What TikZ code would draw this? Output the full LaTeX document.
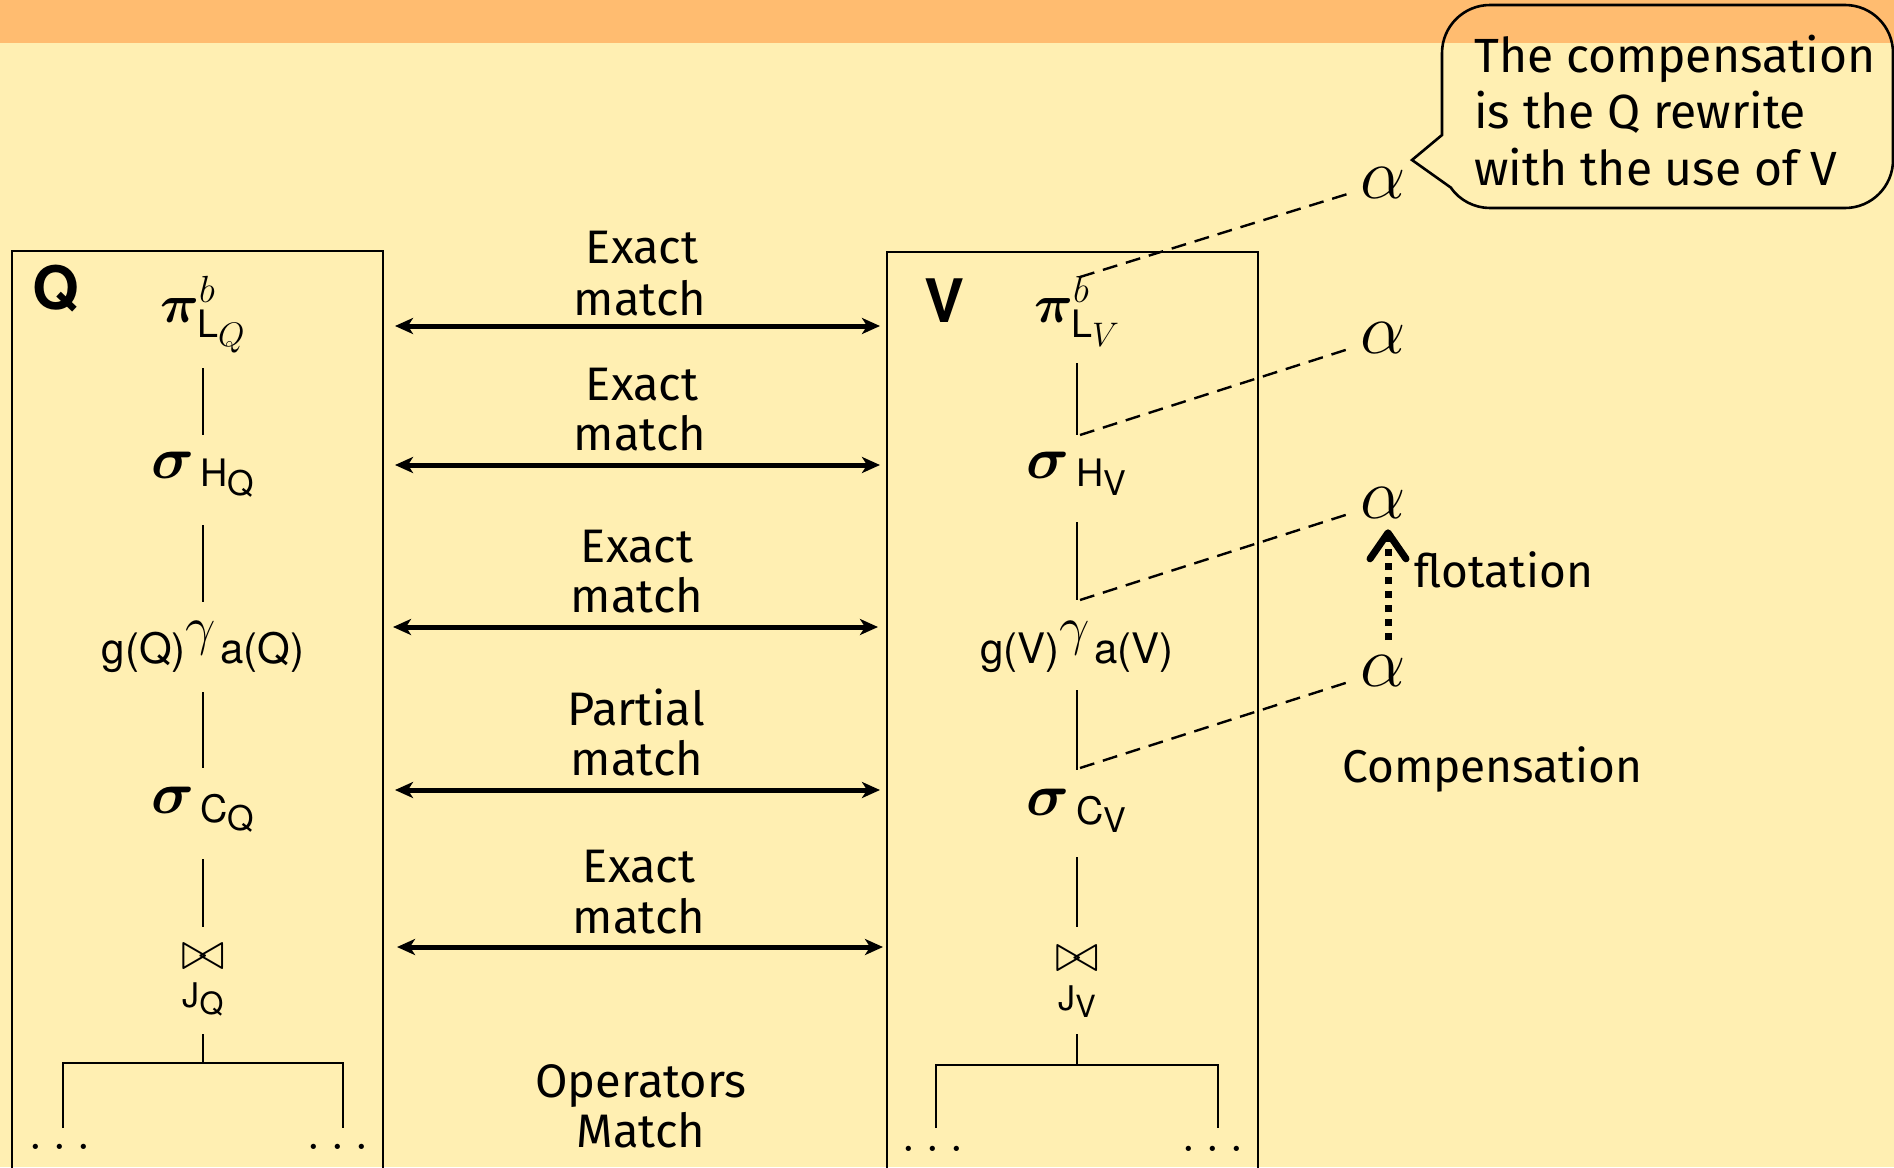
\RequirePackage{fix-cm}
\documentclass[tikz,border=0pt]{standalone}
\usepackage{amsmath}
\usepackage{bm}
\usepackage{fontspec}
\setsansfont{TeX Gyre Heros}
\newfontfamily\labfont{Fira Sans}
\usetikzlibrary{arrows.meta}
\definecolor{bgyellow}{RGB}{255,239,178}
\definecolor{bandorange}{RGB}{255,188,112}
\newcommand{\sfsub}[2]{\text{\sffamily #1\raisebox{-0.22em}{\scalebox{0.9}{#2}}}}
\newcommand{\subtxt}{\fontsize{21}{21}\selectfont\sffamily}
\newcommand{\bigsig}{\scalebox{1.1}{$\bm{\sigma}$}}
\begin{document}
\begin{tikzpicture}[x=0.5pt,y=-0.5pt,
  treeop/.style={inner sep=0pt, anchor=base, font=\fontsize{27}{32}\selectfont},
  joinlab/.style={inner sep=0pt, anchor=base, font=\fontsize{17}{18}\selectfont\sffamily},
  treeline/.style={line width=1pt},
  boxst/.style={draw, line width=1.3pt, inner sep=0pt, outer sep=0pt, anchor=north west},
  sidelabel/.style={inner sep=0pt, anchor=base, font=\sffamily\bfseries\fontsize{30}{34}\selectfont},
  lab/.style={anchor=base, inner sep=0pt, font=\labfont\fontsize{23.5}{26}\selectfont},
  blab/.style={anchor=base west, inner sep=0pt, font=\labfont\fontsize{23}{26}\selectfont},
  bublab/.style={anchor=base west, inner sep=0pt, font=\labfont\fontsize{24}{27}\selectfont},
  matcharrow/.style={line width=2.5pt, {Stealth[length=9pt,width=8pt,inset=2.5pt]}-{Stealth[length=9pt,width=8pt,inset=2.5pt]}},
  dashconn/.style={line width=1.2pt, dash pattern=on 7.5pt off 4.5pt},
  alphanode/.style={inner sep=3pt, font=\fontsize{36}{40}\selectfont},
  flotarrow/.style={line width=3.5pt, dash pattern=on 3.5pt off 3.5pt, -{Straight Barb[length=13pt,width=18pt,round]}},
  bubble/.style={line width=1.3pt}
]
\useasboundingbox (0,0) rectangle (1894,1167);
\clip (0,0) rectangle (1894,1167);
\fill[bgyellow] (0,0) rectangle (1894,1167);
\fill[bandorange] (0,0) rectangle (1894,43);

% boxes
\node[boxst, minimum width=185.5pt, minimum height=480pt] (qbox) at (12,251) {};
\node[boxst, minimum width=185.5pt, minimum height=480pt] (vbox) at (887,252) {};
\node[sidelabel] (qlab) at (56,309) {Q};
\node[sidelabel] (vlab) at (944,322) {V};

% left tree
\node[treeop] (pq) at (203,322) {$\bm{\pi}^{b}_{\sfsub{L}{$Q$}}$};
\node[treeop] (shq) at (203,478) {\bigsig$_{\,\sfsub{H}{Q}}$};
\node[treeop] (gq) at (203,663) {{\subtxt g(Q)}\raisebox{9.5pt}{$\gamma$}\hspace{2pt}{\subtxt a(Q)}};
\node[treeop] (scq) at (203,813) {\bigsig$_{\,\sfsub{C}{Q}}$};
\node[treeop] (bq) at (203,969) {$\bowtie$};
\node[joinlab] (jq) at (203,1007) {J\raisebox{-0.22em}{\scalebox{0.9}{Q}}};
\node[treeop] (dql) at (60,1149) {$\ldots$};
\node[treeop] (dqr) at (338,1149) {$\ldots$};
\coordinate (qfork) at (203,1063);
\coordinate (qlegl) at (63,1128);
\coordinate (qlegr) at (343,1128);
\draw[treeline, shorten <=23pt, shorten >=21.5pt] (pq.base) -- (shq.base);
\draw[treeline, shorten <=23.5pt, shorten >=30.5pt] (shq.base) -- (gq.base);
\draw[treeline, shorten <=14.5pt, shorten >=22.5pt] (gq.base) -- (scq.base);
\draw[treeline, shorten <=23pt, shorten >=21pt] (scq.base) -- (bq.base);
\draw[treeline, shorten <=13.5pt] (jq.base) -- (qfork);
\draw[treeline] (qlegl) |- (qfork) -| (qlegr);

% right tree
\node[treeop] (pv) at (1077,322) {$\bm{\pi}^{b}_{\sfsub{L}{$V$}}$};
\node[treeop] (shv) at (1077,478) {\bigsig$_{\,\sfsub{H}{V}}$};
\node[treeop] (gv) at (1077,663) {{\subtxt g(V)}\raisebox{9.5pt}{$\gamma$}\hspace{2pt}{\subtxt a(V)}};
\node[treeop] (scv) at (1077,815) {\bigsig$_{\,\sfsub{C}{V}}$};
\node[treeop] (bv) at (1077,971) {$\bowtie$};
\node[joinlab] (jv) at (1077,1010) {J\raisebox{-0.22em}{\scalebox{0.9}{V}}};
\node[treeop] (dvl) at (933,1151) {$\ldots$};
\node[treeop] (dvr) at (1213,1151) {$\ldots$};
\coordinate (vfork) at (1077,1065);
\coordinate (vlegl) at (936,1128);
\coordinate (vlegr) at (1218,1128);
\draw[treeline, shorten <=20.5pt, shorten >=21.5pt] (pv.base) -- (shv.base);
\draw[treeline, shorten <=22pt, shorten >=31.5pt] (shv.base) -- (gv.base);
\draw[treeline, shorten <=13.5pt, shorten >=22.5pt] (gv.base) -- (scv.base);
\draw[treeline, shorten <=21pt, shorten >=22pt] (scv.base) -- (bv.base);
\draw[treeline, shorten <=12pt] (jv.base) -- (vfork);
\draw[treeline] (vlegl) |- (vfork) -| (vlegr);

% match arrows
\coordinate (m1l) at (395,326); \coordinate (m1r) at (880,326);
\coordinate (m2l) at (395,465); \coordinate (m2r) at (880,465);
\coordinate (m3l) at (393,627); \coordinate (m3r) at (878,627);
\coordinate (m4l) at (395,790); \coordinate (m4r) at (880,790);
\coordinate (m5l) at (397,947); \coordinate (m5r) at (883,947);
\draw[matcharrow] (m1l) -- (m1r);
\draw[matcharrow] (m2l) -- (m2r);
\draw[matcharrow] (m3l) -- (m3r);
\draw[matcharrow] (m4l) -- (m4r);
\draw[matcharrow] (m5l) -- (m5r);

\node[lab] (e1a) at (642,263) {Exact};
\node[lab] (e1b) at (640,315) {match};
\node[lab] (e2a) at (642,400) {Exact};
\node[lab] (e2b) at (640,450) {match};
\node[lab] (e3a) at (637,562) {Exact};
\node[lab] (e3b) at (637,612) {match};
\node[lab] (e4a) at (636,725) {Partial};
\node[lab] (e4b) at (637,775) {match};
\node[lab] (e5a) at (639,882) {Exact};
\node[lab] (e5b) at (639,933) {match};
\node[lab] (e6a) at (641,1097) {Operators};
\node[lab] (e6b) at (641,1147) {Match};

% compensation
\node[alphanode] (a1) at (1383,183) {$\alpha$};
\node[alphanode] (a2) at (1383,338) {$\alpha$};
\node[alphanode] (a3) at (1383,503) {$\alpha$};
\node[alphanode] (a4) at (1383,671) {$\alpha$};
\coordinate (d1s) at (1080,277);
\coordinate (d2s) at (1080,435);
\coordinate (d3s) at (1080,600);
\coordinate (d4s) at (1080,768);
\draw[dashconn] (d1s) -- (a1);
\draw[dashconn] (d2s) -- (a2);
\draw[dashconn] (d3s) -- (a3);
\draw[dashconn] (d4s) -- (a4);
\draw[flotarrow, shorten <=4.5pt, shorten >=2.2pt] ([xshift=2.5pt]a4.north) -- ([xshift=2.5pt]a3.south);
\node[blab] (flot) at (1414,587) {flotation};
\node[blab] (comp) at (1342,782) {Compensation};

% speech bubble
\draw[bubble] (1450.7,187.5) -- (1412,160) -- (1442,135) -- (1442,53)
  arc[start angle=180, end angle=270, radius=48] -- (1845,5)
  arc[start angle=270, end angle=360, radius=48] -- (1893,160)
  arc[start angle=0, end angle=90, radius=48] -- (1490,208)
  arc[start angle=90, end angle=145, radius=48] -- cycle;
\node[bublab] (bt1) at (1474,72) {The compensation};
\node[bublab] (bt2) at (1474,128) {is the Q rewrite};
\node[bublab] (bt3) at (1474,185) {with the use of V};
\end{tikzpicture}
\end{document}
